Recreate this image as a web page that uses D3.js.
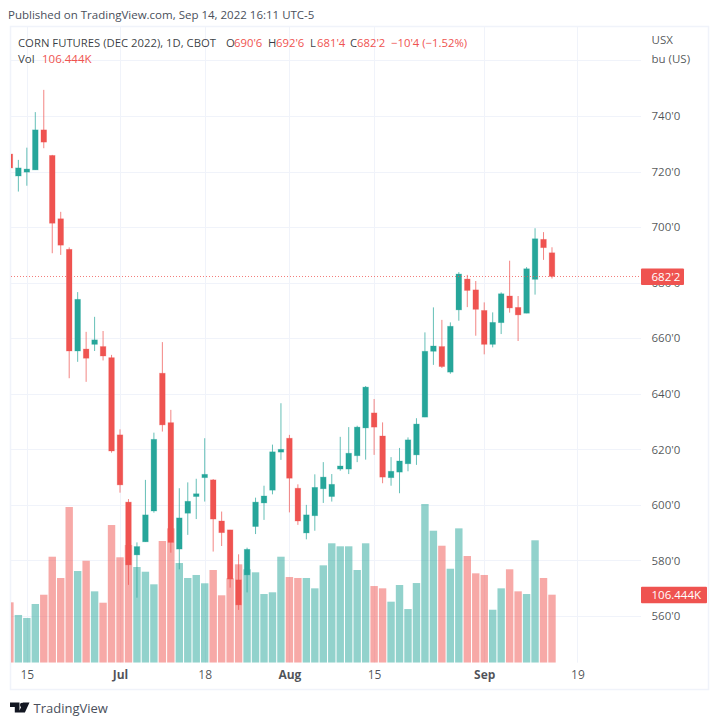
<!DOCTYPE html>
<html>
<head>
<meta charset="utf-8">
<script src="https://cdnjs.cloudflare.com/ajax/libs/d3/7.8.5/d3.min.js"></script>
<style>
    html, body { margin: 0; padding: 0; background: #fff; }
    svg { display: block; }
    text { font-family: "Open Sans", "Noto Sans", sans-serif; }
</style>
</head>
<body>
<svg id="chart" width="720" height="725"></svg>
<script>
// trading days, last three are empty space after the last bar
const days = [
    "06-13","06-14","06-15","06-16","06-17","06-21","06-22","06-23","06-24","06-27","06-28","06-29","06-30",
    "07-01","07-05","07-06","07-07","07-08","07-11","07-12","07-13","07-14","07-15","07-18","07-19","07-20","07-21","07-22","07-25","07-26","07-27","07-28","07-29",
    "08-01","08-02","08-03","08-04","08-05","08-08","08-09","08-10","08-11","08-12","08-15","08-16","08-17","08-18","08-19","08-22","08-23","08-24","08-25","08-26","08-29","08-30","08-31",
    "09-01","09-02","09-06","09-07","09-08","09-09","09-12","09-13","09-14","09-15","09-16","09-19"
];
const open = [726.3,718.4,719.8,720.6,735,725.8,703,692,655.4,656.1,657.8,657,653,625.2,601,582,586.7,597.8,647.4,629.6,584.1,597,603,609.8,609,594.2,591,573,574.8,592.2,600.7,605.3,619,624,606,589.9,596.1,605.8,603,612.9,612.9,617.7,627.7,633.1,624.8,609.8,611.8,614.8,618,631.6,655.3,657,647.8,670.2,681.3,677.4,670,657.8,665.6,675.2,671.1,669,681.2,695.6,690.75];
const high = [726.3,724.2,728.6,741.4,749.4,726,705.5,692.7,676.6,662.3,667.7,662.6,654,627.2,602.1,586.5,609,626,658.6,634.2,606,608.1,609.4,624,609.3,597.6,591,582.2,584.6,602.6,606.9,621.7,636.6,625.2,607.4,600,611,615.4,611.1,624.5,628,628.5,642.8,638.1,629.7,617.2,620.5,624.3,631.2,662.1,671.1,666.6,665.7,683.8,682.8,680.6,672.9,669.3,676.5,687.9,675.2,685.6,699.6,698.2,692.75];
const low = [721.3,712.8,714.9,720.6,728.4,690.6,690,645.6,651.5,644.3,655.4,652,618.8,604.4,571.2,566.6,586.7,597.2,626.4,582.8,576.8,589.2,594.9,601.2,583.2,585.2,570.2,562.2,568.5,589.5,594.6,603.8,616.2,597.3,592.8,587.6,590.7,600.7,601.2,612.3,611.1,615.4,616.3,618,607.8,606.9,604.2,612.1,614.4,631.6,650.4,649.3,647.2,666.3,671.2,660.9,654.2,656.7,661.5,669.2,659,669,675.7,688.2,681.5];
const close = [721.3,721.3,720.9,735,730.6,701.4,693.5,655.4,674,652.8,659.4,653.6,619.4,607.2,578.4,585,596.4,623.6,628.8,586.5,595.3,601.3,604,611,594.9,590,573.3,564,584,601,603.2,619.1,620,609.6,594.2,596.4,606.3,610,607.4,614,618.6,628,642.4,628,610,612.1,615.8,623.4,629.1,655.3,657.2,649.8,664.3,683.1,677.2,670.4,657.8,665.7,676,670.9,668.4,685,695.8,692.6,682.25];
const volume = [94.5,74.7,70,91.9,106.4,165.9,132.6,243.7,143.5,159.6,111.7,93.9,215.5,165,184.2,149.8,142.4,122.7,190.5,210.3,156,132.6,137.3,124.3,145.1,105.5,132.1,154,146.2,141.5,107.5,110.2,165.9,134.1,132.6,132.6,116.4,152.4,186.9,182.2,182.2,145.1,186.9,120,116.4,95.5,121.6,84,124.7,248.4,206.6,183.1,147.1,210.3,167,139.9,137.3,82.9,116.4,146.2,111.7,107.5,191.6,132.6,106.444];

const priceTicks = [740,720,700,680,660,640,620,600,580,560];
const gridPrices = [760,740,720,700,680,660,640,620,600,580,560];
const xTickDays = ["06-15","07-01","07-18","08-01","08-15","09-01","09-19"];
const xTickLabels = ["15","Jul","18","Aug","15","Sep","19"];
const monthLabels = ["Jul","Aug","Sep"];

const lastPrice = 682.25;
const lastPriceLabel = "682'2";
const lastVolume = 106.444;
const lastVolumeLabel = "106.444K";

const legendParts = [
    {t:"CORN FUTURES (DEC 2022), 1D, CBOT", x:18, c:"#131722"},
    {t:"O", x:226, c:"#131722"}, {t:"690'6", x:234, c:"#ef5350"},
    {t:"H", x:268, c:"#131722"}, {t:"692'6", x:276, c:"#ef5350"},
    {t:"L", x:310, c:"#131722"}, {t:"681'4", x:317, c:"#ef5350"},
    {t:"C", x:350, c:"#131722"}, {t:"682'2", x:357, c:"#ef5350"},
    {t:"\u221210'4 (\u22121.52%)", x:391, c:"#ef5350"}
];

const up = "#26a69a";
const down = "#ef5350";
const gridColor = "#f0f3fa";
const textColor = "#131722";

const plot = {left: 11, right: 641, top: 27, bottom: 662.7};

const svg = d3.select("#chart");

const xScale = d3.scalePoint().domain(days).range([9.9, 577.4]);
const yScale = d3.scaleLinear().domain([560, 740]).range([616, 116]);
const volScale = d3.scaleLinear().domain([0, lastVolume]).range([plot.bottom, 594.7]);

const colorOf = (i) => close[i] < open[i] ? down : up;

const addFrame = () => {
    svg.append("rect")
        .attr("x", 10.5).attr("y", 26.5)
        .attr("width", 698).attr("height", 663)
        .attr("fill", "#fff")
        .attr("stroke", gridColor)
        .attr("stroke-width", 1.5);

    svg.append("defs").append("clipPath").attr("id", "plotclip")
        .append("rect")
        .attr("x", plot.left).attr("y", plot.top)
        .attr("width", plot.right - plot.left).attr("height", plot.bottom - plot.top);
};

const addGrid = () => {
    svg.append("g").selectAll("line")
        .data(gridPrices)
        .enter().append("line")
        .attr("x1", plot.left).attr("x2", plot.right)
        .attr("y1", d => Math.round(yScale(d)) + 0.5).attr("y2", d => Math.round(yScale(d)) + 0.5)
        .attr("stroke", gridColor);

    svg.append("g").selectAll("line")
        .data(xTickDays)
        .enter().append("line")
        .attr("x1", d => Math.round(xScale(d)) + 0.5).attr("x2", d => Math.round(xScale(d)) + 0.5)
        .attr("y1", plot.top).attr("y2", plot.bottom)
        .attr("stroke", gridColor);
};

const addVolume = () => {
    svg.append("g")
        .attr("clip-path", "url(#plotclip)")
        .selectAll("rect")
        .data(volume)
        .enter().append("rect")
        .attr("x", (d, i) => xScale(days[i]) - 3.7)
        .attr("width", 7.4)
        .attr("y", d => volScale(d))
        .attr("height", d => plot.bottom - volScale(d))
        .attr("fill", (d, i) => colorOf(i))
        .attr("opacity", 0.5);
};

const addCandles = () => {
    const g = svg.append("g").attr("clip-path", "url(#plotclip)");
    const idx = d3.range(open.length);

    g.selectAll("line")
        .data(idx)
        .enter().append("line")
        .attr("x1", i => xScale(days[i])).attr("x2", i => xScale(days[i]))
        .attr("y1", i => yScale(high[i])).attr("y2", i => yScale(low[i]))
        .attr("stroke", i => colorOf(i))
        .attr("stroke-width", 1)
        .attr("opacity", 0.7);

    g.selectAll("rect")
        .data(idx)
        .enter().append("rect")
        .attr("x", i => xScale(days[i]) - 2.8)
        .attr("width", 5.6)
        .attr("y", i => yScale(Math.max(open[i], close[i])))
        .attr("height", i => Math.abs(yScale(open[i]) - yScale(close[i])))
        .attr("fill", i => colorOf(i))
        .attr("stroke", i => colorOf(i))
        .attr("stroke-width", 0.8)
        .attr("stroke-opacity", 0.35);
};

const addAxis = () => {
    const yAxis = d3.axisRight(yScale)
        .tickValues(priceTicks)
        .tickSize(0)
        .tickPadding(0)
        .tickFormat(d => d + "'0");

    const yg = svg.append("g")
        .attr("transform", `translate(651.5, 0)`)
        .call(yAxis);
    yg.select(".domain").remove();
    yg.selectAll("text").attr("font-size", 11.5).attr("fill", textColor).attr("fill-opacity", 0.75)
        .attr("font-family", '"Open Sans", sans-serif');

    const xAxis = d3.axisBottom(xScale)
        .tickValues(xTickDays)
        .tickSize(0)
        .tickPadding(0)
        .tickFormat((d, i) => xTickLabels[i]);

    const xg = svg.append("g")
        .attr("transform", `translate(0, 670.5)`)
        .call(xAxis);
    xg.select(".domain").remove();
    xg.selectAll("text")
        .attr("font-size", 12)
        .attr("fill", textColor)
        .attr("fill-opacity", 0.75)
        .attr("font-family", '"Open Sans", sans-serif')
        .attr("font-weight", (d, i) => monthLabels.includes(xTickLabels[i]) ? 700 : 400);
};

const addLastPrice = () => {
    svg.append("line")
        .attr("x1", plot.left).attr("x2", plot.right)
        .attr("y1", Math.round(yScale(lastPrice)) + 0.5).attr("y2", Math.round(yScale(lastPrice)) + 0.5)
        .attr("stroke", down)
        .attr("stroke-width", 1)
        .attr("stroke-dasharray", "1 2")
        .attr("opacity", 0.75);

    svg.append("rect")
        .attr("x", 641).attr("y", yScale(lastPrice) - 8)
        .attr("width", 43).attr("height", 16.5)
        .attr("rx", 1)
        .attr("fill", down);
    svg.append("text")
        .text(lastPriceLabel)
        .attr("x", 651.5).attr("y", yScale(lastPrice) + 4.5)
        .attr("font-size", 11.5).attr("fill", "#fff");

    svg.append("rect")
        .attr("x", 641).attr("y", volScale(lastVolume) - 8)
        .attr("width", 66).attr("height", 16.5)
        .attr("rx", 1)
        .attr("fill", down);
    svg.append("text")
        .text(lastVolumeLabel)
        .attr("x", 651.5).attr("y", volScale(lastVolume) + 4.5)
        .attr("font-size", 11.5).attr("fill", "#fff");
};

const addText = () => {
    svg.append("text")
        .text("Published on TradingView.com, Sep 14, 2022 16:11 UTC-5")
        .attr("x", 8).attr("y", 19)
        .attr("font-size", 11.5).attr("fill", "#4a4f5b");

    svg.append("g").selectAll("text")
        .data(legendParts)
        .enter().append("text")
        .text(d => d.t)
        .attr("x", d => d.x).attr("y", 47)
        .attr("font-size", 11.3)
        .attr("fill", d => d.c)
        .attr("fill-opacity", d => d.c === down ? 1 : 0.85);

    svg.append("text").text("Vol")
        .attr("x", 18).attr("y", 63)
        .attr("font-size", 11.5).attr("fill", textColor).attr("fill-opacity", 0.85);
    svg.append("text").text(lastVolumeLabel)
        .attr("x", 42).attr("y", 63)
        .attr("font-size", 11.5).attr("fill", down);

    svg.append("text").text("USX")
        .attr("x", 651.5).attr("y", 44)
        .attr("font-size", 11.5).attr("fill", textColor).attr("fill-opacity", 0.75);
    svg.append("text").text("bu (US)")
        .attr("x", 651.5).attr("y", 63)
        .attr("font-size", 11.5).attr("fill", textColor).attr("fill-opacity", 0.75);

    // logo
    svg.append("path")
        .attr("d", "M10 702.5h9.5v10h-4.7v-5.4H10z M23 702.5h6.5l-4.6 10h-6.2z")
        .attr("fill", textColor);
    svg.append("circle")
        .attr("cx", 22.2).attr("cy", 705).attr("r", 2.3)
        .attr("fill", textColor);
    svg.append("text").text("TradingView")
        .attr("x", 33.5).attr("y", 712.5)
        .attr("font-size", 13).attr("fill", "#4a4f5b");
};

addFrame();
addGrid();
addVolume();
addCandles();
addAxis();
addLastPrice();
addText();
</script>
</body>
</html>
